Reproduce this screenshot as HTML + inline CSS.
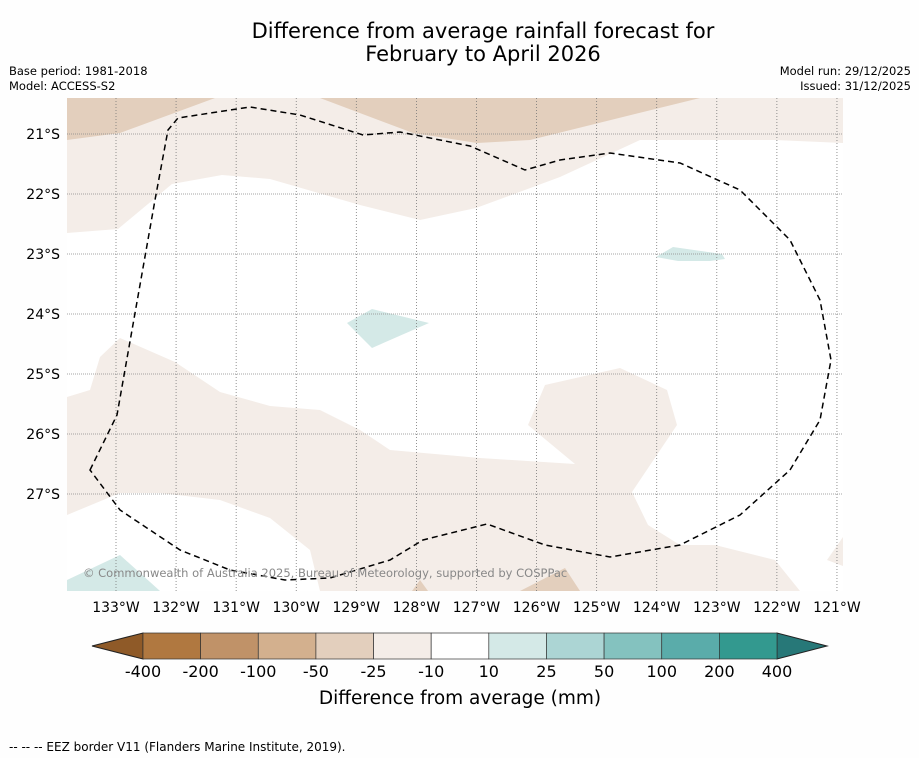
<!DOCTYPE html>
<html><head><meta charset="utf-8"><style>
body{margin:0;background:#fff;font-family:"DejaVu Sans","Liberation Sans",sans-serif;}
svg{display:block}
</style></head><body>
<svg id="chart" width="919" height="758" viewBox="0 0 919 758" font-family="DejaVu Sans, Liberation Sans, sans-serif">
<rect width="919" height="758" fill="#fefefe"/>
<text x="483" y="38" font-size="21" text-anchor="middle">Difference from average rainfall forecast for</text>
<text x="483" y="61" font-size="21" text-anchor="middle">February to April 2026</text>
<text x="9" y="75" font-size="11.5">Base period: 1981-2018</text>
<text x="9" y="90" font-size="11.5">Model: ACCESS-S2</text>
<text x="911" y="75" font-size="11.5" text-anchor="end">Model run: 29/12/2025</text>
<text x="911" y="90" font-size="11.5" text-anchor="end">Issued: 31/12/2025</text>
<defs><clipPath id="mc"><rect x="67" y="98" width="776" height="493"/></clipPath></defs>
<g clip-path="url(#mc)">
<rect x="67" y="98" width="776" height="493" fill="#fff"/>
<polygon fill="#f4ede8" points="67,98 843,98 843,143 775,140 640,140 560,177 476,208 420,220 360,205 270,179 222,175 172,184 118,229 67,233"/>
<polygon fill="#e3cfbd" points="67,98 215,98 120,133 67,140"/>
<polygon fill="#e3cfbd" points="320,98 700,98 530,140 477,143 413,133"/>
<polygon fill="#f4ede8" points="67,397 90,390 100,357 120,338 175,362 220,392 270,406 320,410 360,430 390,450 480,458 575,464 528,425 545,385 620,368 667,390 677,425 632,492 648,525 680,545 715,545 775,560 800,591 320,591 310,550 270,518 220,500 160,493 120,493 67,515"/>
<polygon fill="#f4ede8" points="843,537 827,560 843,566"/>
<polygon fill="#e3cfbd" points="412,591 420,580 428,591"/>
<polygon fill="#e3cfbd" points="520,591 565,568 580,591"/>
<polygon fill="#d4e9e7" points="67,580 120,555 160,591 67,591"/>
<polygon fill="#d4e9e7" points="347,323 372,309 429,323 372,348"/>
<polygon fill="#d4e9e7" points="656,257 673,247 722,254 725,259 710,261 678,261"/>
<g id="grid"></g>
<path fill="none" stroke="#000" stroke-width="1.5" stroke-dasharray="6,4" d="M90,470 L117,415 L155,200 L168,130 L178,118 L250,107 L300,115 L363,135 L400,132 L470,146 L525,170 L560,160 L610,153 L680,163 L740,190 L790,240 L820,300 L831,360 L820,420 L790,470 L740,515 L680,545 L610,557 L545,545 L487,524 L423,540 L390,560 L330,578 L285,580 L230,570 L180,550 L120,510 Z"/>
<text x="83" y="577" font-size="11.5" fill="#888">© Commonwealth of Australia 2025, Bureau of Meteorology, supported by COSPPac</text>
</g>
<g id="axes"></g>
<g id="cbar"></g>
<text x="460" y="704" font-size="18.5" text-anchor="middle">Difference from average (mm)</text>
<text x="9" y="751" font-size="12">--  --  -- EEZ border V11 (Flanders Marine Institute, 2019).</text>
</svg>
<script>
const lonTicks=[133,132,131,130,129,128,127,126,125,124,123,122,121];
const latTicks=[21,22,23,24,25,26,27];
const cbLabels=["-400","-200","-100","-50","-25","-10","10","25","50","100","200","400"];
const cbColors=["#b07840","#c09268","#d3b08e","#e3cfbd","#f4ede8","#ffffff","#d4e9e7","#acd5d4","#84c2bf","#5aacaa","#33998f"];
const NS="http://www.w3.org/2000/svg";
function xLon(l){return 116+(133-l)*60.08;}
function yLat(l){return 134+(l-21)*60;}
function mk(t,a,p){const e=document.createElementNS(NS,t);for(const k in a)e.setAttribute(k,a[k]);p.appendChild(e);return e;}
const grid=document.getElementById('grid'),axes=document.getElementById('axes'),cb=document.getElementById('cbar');
lonTicks.forEach(l=>{const x=xLon(l);
const g=mk('line',{x1:x,x2:x,y1:98,y2:591,stroke:'#777','stroke-width':0.8,'stroke-dasharray':'1,2'},grid);


const t=mk('text',{x:x,y:612,'font-size':14,'text-anchor':'middle'},axes);t.textContent=l+'°W';

});
latTicks.forEach(l=>{const y=yLat(l);
const g=mk('line',{x1:67,x2:843,y1:y,y2:y,stroke:'#888','stroke-width':0.8,'stroke-dasharray':'1,1'},grid);


const t=mk('text',{x:60,y:y+5,'font-size':14,'text-anchor':'end'},axes);t.textContent=l+'°S';

});
const x0=143,x1=777,y0=633,y1=659,w=(x1-x0)/cbColors.length;
const lt=mk('polygon',{points:`92,646 ${x0},${y0} ${x0},${y1}`,fill:'#8f5a28',stroke:'#222','stroke-width':1},cb);


const rt=mk('polygon',{points:`827,646 ${x1},${y0} ${x1},${y1}`,fill:'#277878',stroke:'#222','stroke-width':1},cb);


cbColors.forEach((c,i)=>{const r=mk('rect',{x:x0+i*w,y:y0,width:w,height:y1-y0,fill:c,stroke:'#333','stroke-width':0.7},cb);

});
cbLabels.forEach((s,i)=>{const t=mk('text',{x:x0+i*w,y:677,'font-size':16,'text-anchor':'middle'},cb);t.textContent=s;

});
</script>
</body></html>
